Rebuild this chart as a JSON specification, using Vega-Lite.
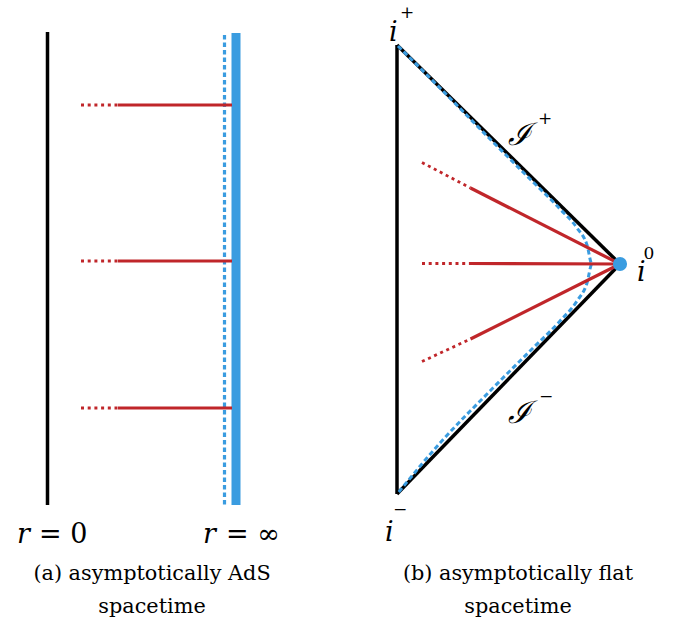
{
  "$schema": "https://vega.github.io/schema/vega-lite/v6.json",
  "width": 680,
  "height": 622,
  "autosize": {"type": "fit", "contains": "padding"},
  "padding": 0,
  "background": "white",
  "config": {"view": {"stroke": null}},
  "datasets": {
    "segments": [
      {"kind": "wall", "x": 47.5, "y": 32, "x2": 47.5, "y2": 505},
      {"kind": "boundary", "x": 236, "y": 33, "x2": 236, "y2": 505},
      {"kind": "cutoff", "x": 224.5, "y": 35, "x2": 224.5, "y2": 505},
      {"kind": "ray", "x": 118, "y": 105, "x2": 232, "y2": 105},
      {"kind": "ray", "x": 118, "y": 261, "x2": 232, "y2": 261},
      {"kind": "ray", "x": 118, "y": 408, "x2": 232, "y2": 408},
      {"kind": "ray-ext", "x": 81, "y": 105, "x2": 118, "y2": 105},
      {"kind": "ray-ext", "x": 81, "y": 261, "x2": 118, "y2": 261},
      {"kind": "ray-ext", "x": 81, "y": 408, "x2": 118, "y2": 408},
      {"kind": "wall", "x": 397, "y": 45, "x2": 397, "y2": 494},
      {"kind": "wall", "x": 397, "y": 45, "x2": 620, "y2": 264},
      {"kind": "wall", "x": 620, "y": 264, "x2": 397, "y2": 494},
      {"kind": "ray", "x": 470.5, "y": 188, "x2": 620, "y2": 264},
      {"kind": "ray", "x": 469, "y": 263.5, "x2": 620, "y2": 264},
      {"kind": "ray", "x": 470.5, "y": 339, "x2": 620, "y2": 264},
      {"kind": "ray-ext", "x": 422, "y": 162.5, "x2": 470.5, "y2": 188},
      {"kind": "ray-ext", "x": 422, "y": 263.5, "x2": 469, "y2": 263.5},
      {"kind": "ray-ext", "x": 422, "y": 361.5, "x2": 470.5, "y2": 339}
    ],
    "curve": [
      {"o": 0, "x": 398, "y": 46},
      {"o": 1, "x": 440, "y": 88},
      {"o": 2, "x": 490, "y": 139},
      {"o": 3, "x": 530, "y": 179},
      {"o": 4, "x": 560, "y": 209},
      {"o": 5, "x": 577, "y": 228},
      {"o": 6, "x": 587, "y": 245},
      {"o": 7, "x": 592, "y": 264},
      {"o": 8, "x": 587, "y": 283},
      {"o": 9, "x": 577, "y": 301},
      {"o": 10, "x": 560, "y": 321},
      {"o": 11, "x": 530, "y": 351},
      {"o": 12, "x": 490, "y": 391},
      {"o": 13, "x": 440, "y": 443},
      {"o": 14, "x": 398, "y": 493}
    ],
    "points": [
      {"name": "i0", "x": 620, "y": 264}
    ],
    "labels": [
      {"kind": "mathit", "t": "r", "x": 17, "y": 535},
      {"kind": "math", "t": "= 0", "x": 39, "y": 535},
      {"kind": "mathit", "t": "r", "x": 203, "y": 535},
      {"kind": "math", "t": "= ∞", "x": 226, "y": 535},
      {"kind": "mathit", "t": "i", "x": 389, "y": 33},
      {"kind": "mathit", "t": "i", "x": 385, "y": 533},
      {"kind": "mathit", "t": "i", "x": 637, "y": 273},
      {"kind": "sup", "t": "+", "x": 407, "y": 13},
      {"kind": "sup", "t": "−", "x": 400, "y": 510},
      {"kind": "sup", "t": "0", "x": 649, "y": 254},
      {"kind": "script", "t": "ℐ", "x": 508, "y": 136},
      {"kind": "script", "t": "ℐ", "x": 508, "y": 414},
      {"kind": "sup", "t": "+", "x": 545, "y": 119},
      {"kind": "sup", "t": "−", "x": 546, "y": 397},
      {"kind": "caption", "t": "(a) asymptotically AdS", "x": 152, "y": 574},
      {"kind": "caption", "t": "spacetime", "x": 152, "y": 607},
      {"kind": "caption", "t": "(b) asymptotically flat", "x": 518, "y": 574},
      {"kind": "caption", "t": "spacetime", "x": 518, "y": 607}
    ]
  },
  "encoding": {
    "x": {"field": "x", "type": "quantitative", "scale": {"domain": [0, 680], "nice": false, "zero": false}, "axis": null},
    "y": {"field": "y", "type": "quantitative", "scale": {"domain": [0, 622], "nice": false, "zero": false, "reverse": true}, "axis": null}
  },
  "layer": [
    {
      "data": {"name": "segments"},
      "transform": [{"filter": "datum.kind === 'boundary'"}],
      "mark": {"type": "rule", "color": "#3a9ce0", "strokeWidth": 9, "strokeCap": "butt"},
      "encoding": {"x2": {"field": "x2"}, "y2": {"field": "y2"}}
    },
    {
      "data": {"name": "segments"},
      "transform": [{"filter": "datum.kind === 'cutoff'"}],
      "mark": {"type": "rule", "color": "#3a9ce0", "strokeWidth": 3.2, "strokeDash": [4.5, 3], "strokeCap": "butt"},
      "encoding": {"x2": {"field": "x2"}, "y2": {"field": "y2"}}
    },
    {
      "data": {"name": "segments"},
      "transform": [{"filter": "datum.kind === 'wall'"}],
      "mark": {"type": "rule", "color": "black", "strokeWidth": 3.5, "strokeCap": "butt"},
      "encoding": {"x2": {"field": "x2"}, "y2": {"field": "y2"}}
    },
    {
      "data": {"name": "curve"},
      "mark": {"type": "line", "color": "#3a9ce0", "strokeWidth": 3, "strokeDash": [5, 3], "interpolate": "monotone"},
      "encoding": {"order": {"field": "o", "type": "quantitative"}}
    },
    {
      "data": {"name": "segments"},
      "transform": [{"filter": "datum.kind === 'ray'"}],
      "mark": {"type": "rule", "color": "#c0262a", "strokeWidth": 3.2, "strokeCap": "butt"},
      "encoding": {"x2": {"field": "x2"}, "y2": {"field": "y2"}}
    },
    {
      "data": {"name": "segments"},
      "transform": [{"filter": "datum.kind === 'ray-ext'"}],
      "mark": {"type": "rule", "color": "#c0262a", "strokeWidth": 2.8, "strokeDash": [3, 3.7], "strokeCap": "butt"},
      "encoding": {"x2": {"field": "x2"}, "y2": {"field": "y2"}}
    },
    {
      "data": {"name": "points"},
      "mark": {"type": "point", "shape": "circle", "filled": true, "color": "#3a9ce0", "opacity": 1, "size": 200}
    },
    {
      "data": {"name": "labels"},
      "transform": [{"filter": "datum.kind === 'mathit'"}],
      "mark": {"type": "text", "align": "left", "font": "DejaVu Serif", "fontStyle": "italic", "fontSize": 27, "color": "black"},
      "encoding": {"text": {"field": "t"}}
    },
    {
      "data": {"name": "labels"},
      "transform": [{"filter": "datum.kind === 'math'"}],
      "mark": {"type": "text", "align": "left", "font": "DejaVu Serif", "fontSize": 27, "color": "black"},
      "encoding": {"text": {"field": "t"}}
    },
    {
      "data": {"name": "labels"},
      "transform": [{"filter": "datum.kind === 'sup'"}],
      "mark": {"type": "text", "align": "center", "font": "DejaVu Serif", "fontSize": 17, "color": "black"},
      "encoding": {"text": {"field": "t"}}
    },
    {
      "data": {"name": "labels"},
      "transform": [{"filter": "datum.kind === 'script'"}],
      "mark": {"type": "text", "align": "left", "font": "DejaVu Serif", "fontStyle": "italic", "fontSize": 31, "color": "black"},
      "encoding": {"text": {"field": "t"}}
    },
    {
      "data": {"name": "labels"},
      "transform": [{"filter": "datum.kind === 'caption'"}],
      "mark": {"type": "text", "align": "center", "font": "DejaVu Serif", "fontSize": 20.8, "color": "black"},
      "encoding": {"text": {"field": "t"}}
    }
  ]
}
